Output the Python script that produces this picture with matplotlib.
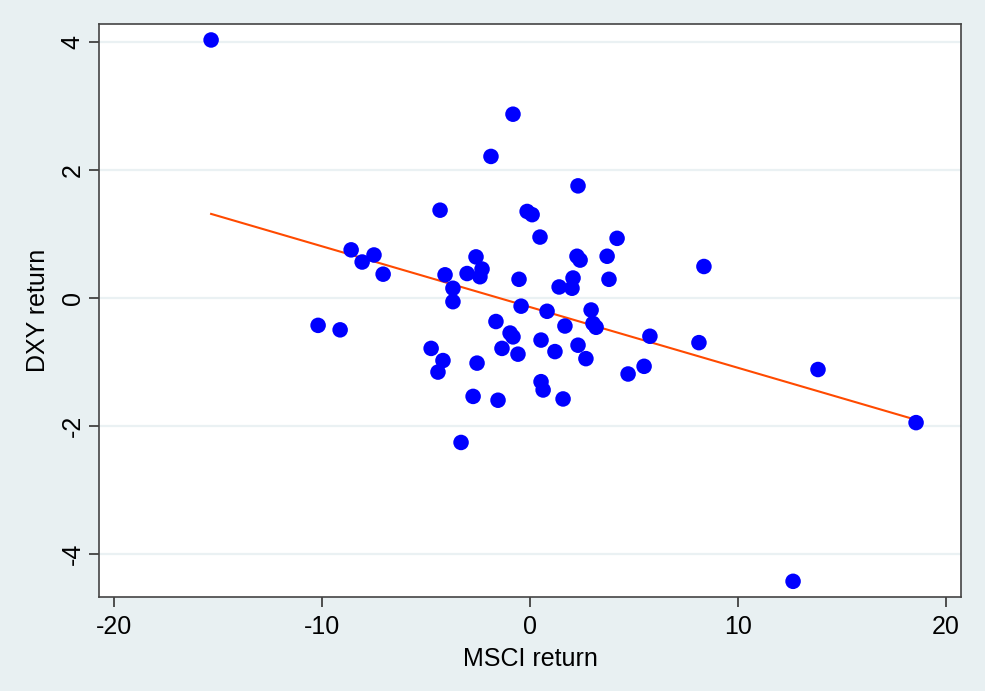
import matplotlib
matplotlib.use("Agg")
import matplotlib.pyplot as plt
import numpy as np

plt.rcParams['font.family'] = ['Liberation Sans', 'DejaVu Sans']
plt.rcParams['axes.unicode_minus'] = False

# monthly returns
msci_return = [-15.35, -0.82, -1.88, 2.31, -4.33, -0.14, 0.10, 0.48, 4.19,
               -8.61, -7.51, -8.08, -7.07, 2.26, 2.41, 3.71, 8.37, -2.60,
               -2.31, -2.41, -3.03, -4.09, -0.53, 2.07, 3.80, -3.71, -3.71,
               1.40, 2.02, -0.43, 0.82, 2.94, -10.20, -9.14, -1.64, 3.03,
               3.18, 1.68, -0.96, -0.82, 0.53, 5.77, 8.13, -4.76, -1.35,
               1.20, -0.58, 2.31, -4.19, 2.69, -2.55, -4.43, 5.49, 4.72,
               13.86, 0.53, 0.63, -2.74, -1.54, 1.59, -3.32, 18.58, 12.66]
dxy_return = [4.03, 2.87, 2.21, 1.75, 1.37, 1.35, 1.30, 0.95, 0.93,
              0.75, 0.67, 0.56, 0.37, 0.65, 0.59, 0.65, 0.49, 0.64,
              0.45, 0.33, 0.38, 0.36, 0.29, 0.31, 0.29, 0.15, -0.06,
              0.17, 0.15, -0.13, -0.21, -0.19, -0.43, -0.50, -0.37, -0.40,
              -0.46, -0.44, -0.55, -0.61, -0.66, -0.60, -0.70, -0.79, -0.79,
              -0.84, -0.88, -0.74, -0.98, -0.95, -1.02, -1.16, -1.07, -1.19,
              -1.12, -1.31, -1.44, -1.54, -1.60, -1.58, -2.26, -1.95, -4.43]

x_ticks = [-20, -10, 0, 10, 20]
y_ticks = [-4, -2, 0, 2, 4]

x = np.array(msci_return)
y = np.array(dxy_return)

bg = '#e8f0f2'
fig = plt.figure(figsize=(9.85, 6.91), dpi=100, facecolor=bg)
ax = fig.add_axes([0.1002, 0.1365, 0.8758, 0.8288])
ax.set_facecolor('white')

# horizontal grid at the y ticks
for t in y_ticks:
    ax.axhline(t, color='#eaf1f3', lw=1.6, zorder=0)

ax.scatter(x, y, s=125, color='#0000ff', edgecolors='none', zorder=3)

# linear fit across the data range
slope, intercept = np.polyfit(x, y, 1)
xs = np.array([x.min(), x.max()])
ax.plot(xs, intercept + slope * xs, color='#ff4a00', lw=1.5, zorder=2)

ax.set_xlim(-20.76, 20.76)
ax.set_ylim(-4.67, 4.28)
ax.set_xticks(x_ticks)
ax.set_yticks(y_ticks)
ax.set_yticklabels([str(t) for t in y_ticks], rotation=90, va='center')

ax.tick_params(axis='both', direction='out', length=7, width=1.2,
               color='#333333', labelsize=18, labelcolor='black', pad=6)
ax.tick_params(axis='y', pad=3)

for s in ax.spines.values():
    s.set_color('#444444')
    s.set_linewidth(1.2)

ax.set_xlabel('MSCI return', fontsize=18, labelpad=6)
ax.set_ylabel('DXY return', fontsize=18, labelpad=8)

fig.savefig('out.png', dpi=100, facecolor=bg)
